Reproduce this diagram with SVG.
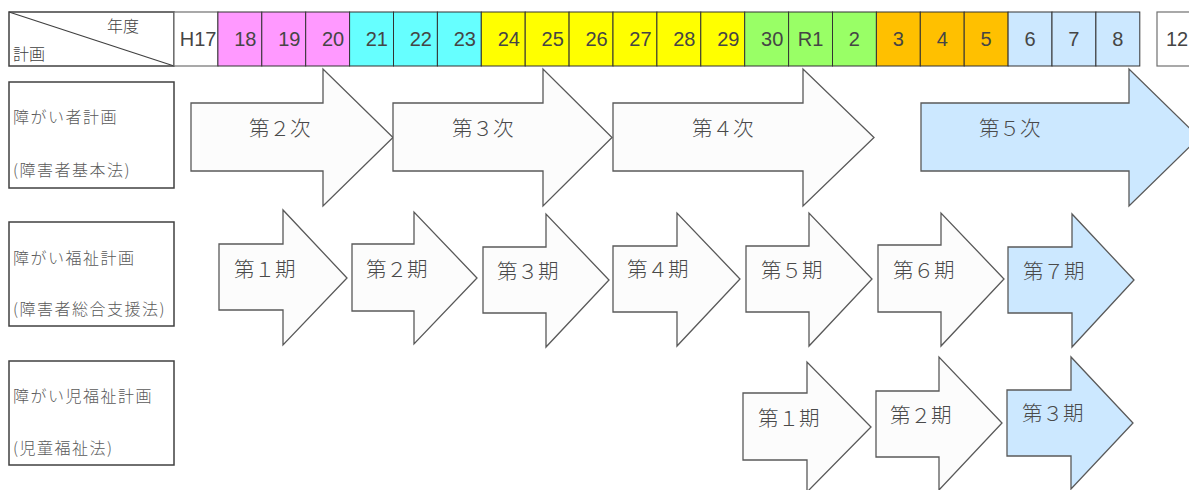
<svg xmlns="http://www.w3.org/2000/svg" width="1189" height="490" viewBox="0 0 1189 490">
<style>
  .cell { stroke: #333333; stroke-width: 1; }
  .wcell { fill: #ffffff; stroke: #707070; stroke-width: 1.2; }
  .pink { fill: #ff99ff; }
  .cyan { fill: #66ffff; }
  .yel { fill: #ffff00; }
  .grn { fill: #99ff66; }
  .org { fill: #ffc000; }
  .blu { fill: #cce8ff; }
  .num { font-family: "Liberation Sans", Arial, sans-serif; font-size: 20px; fill: #454545; }
  .lbl { font-family: "Noto Sans CJK JP", "Noto Sans", sans-serif; font-size: 16px; font-weight: 300; fill: #595959; letter-spacing: 1.5px; }
  .hdr { font-family: "Noto Sans CJK JP", "Noto Sans", sans-serif; font-size: 16px; font-weight: 300; fill: #404040; }
  .box { fill: #ffffff; stroke: #404040; stroke-width: 1.5; }
  .arr { fill: #fcfcfc; stroke: #595959; stroke-width: 1.3; stroke-linejoin: miter; }
  .arrb { fill: #cce8ff; stroke: #595959; stroke-width: 1.3; }
  .at { font-family: "Noto Sans CJK JP", "Noto Sans", sans-serif; font-size: 20.5px; font-weight: 300; fill: #4a4a4a; }
</style>

<g id="header">
  <g id="header-corner">
    <rect class="box" x="9" y="12" width="165" height="54"/>
    <line x1="9" y1="12" x2="174" y2="66" stroke="#404040" stroke-width="1.2"/>
    <text class="hdr" x="107" y="32">年度</text>
    <text class="hdr" x="13" y="60">計画</text>
  </g>
  <g id="year-cells">
    <rect class="wcell" x="174" y="12" width="43.9" height="54"/>
    <rect class="cell pink" x="217.9" y="12" width="43.9" height="54"/>
    <rect class="cell pink" x="261.8" y="12" width="43.9" height="54"/>
    <rect class="cell pink" x="305.7" y="12" width="43.9" height="54"/>
    <rect class="cell cyan" x="349.6" y="12" width="43.9" height="54"/>
    <rect class="cell cyan" x="393.5" y="12" width="43.9" height="54"/>
    <rect class="cell cyan" x="437.4" y="12" width="43.9" height="54"/>
    <rect class="cell yel" x="481.3" y="12" width="43.9" height="54"/>
    <rect class="cell yel" x="525.2" y="12" width="43.9" height="54"/>
    <rect class="cell yel" x="569.1" y="12" width="43.9" height="54"/>
    <rect class="cell yel" x="613" y="12" width="43.9" height="54"/>
    <rect class="cell yel" x="656.9" y="12" width="43.9" height="54"/>
    <rect class="cell yel" x="700.8" y="12" width="43.9" height="54"/>
    <rect class="cell grn" x="744.7" y="12" width="43.9" height="54"/>
    <rect class="cell grn" x="788.6" y="12" width="43.9" height="54"/>
    <rect class="cell grn" x="832.5" y="12" width="43.9" height="54"/>
    <rect class="cell org" x="876.4" y="12" width="43.9" height="54"/>
    <rect class="cell org" x="920.3" y="12" width="43.9" height="54"/>
    <rect class="cell org" x="964.2" y="12" width="43.9" height="54"/>
    <rect class="cell blu" x="1008.1" y="12" width="43.9" height="54"/>
    <rect class="cell blu" x="1052" y="12" width="43.9" height="54"/>
    <rect class="cell blu" x="1095.9" y="12" width="43.9" height="54"/>
    <rect class="wcell" x="1157" y="12" width="45" height="54"/>
  </g>
  <g id="year-labels">
    <text class="num" x="216.5" y="46" text-anchor="end">H17</text>
    <text class="num" x="256.5" y="46" text-anchor="end">18</text>
    <text class="num" x="300.5" y="46" text-anchor="end">19</text>
    <text class="num" x="344.2" y="46" text-anchor="end">20</text>
    <text class="num" x="388" y="46" text-anchor="end">21</text>
    <text class="num" x="432" y="46" text-anchor="end">22</text>
    <text class="num" x="476" y="46" text-anchor="end">23</text>
    <text class="num" x="520" y="46" text-anchor="end">24</text>
    <text class="num" x="563.8" y="46" text-anchor="end">25</text>
    <text class="num" x="607.7" y="46" text-anchor="end">26</text>
    <text class="num" x="651.6" y="46" text-anchor="end">27</text>
    <text class="num" x="695.5" y="46" text-anchor="end">28</text>
    <text class="num" x="739.4" y="46" text-anchor="end">29</text>
    <text class="num" x="783.3" y="46" text-anchor="end">30</text>
    <text class="num" x="810.5" y="46" text-anchor="middle">R1</text>
    <text class="num" x="854.4" y="46" text-anchor="middle">2</text>
    <text class="num" x="898.3" y="46" text-anchor="middle">3</text>
    <text class="num" x="942.2" y="46" text-anchor="middle">4</text>
    <text class="num" x="986.1" y="46" text-anchor="middle">5</text>
    <text class="num" x="1030" y="46" text-anchor="middle">6</text>
    <text class="num" x="1073.9" y="46" text-anchor="middle">7</text>
    <text class="num" x="1117.8" y="46" text-anchor="middle">8</text>
    <text class="num" x="1166" y="46">12</text>
  </g>
</g>

<g id="plan-labels">
  <g id="label-shougaisha">
    <rect class="box" x="9" y="82" width="165" height="106"/>
    <text class="lbl" x="13" y="123">障がい者計画</text>
    <text class="lbl" x="13" y="176">(障害者基本法)</text>
  </g>
  <g id="label-fukushi">
    <rect class="box" x="9" y="222" width="165" height="104"/>
    <text class="lbl" x="13" y="264">障がい福祉計画</text>
    <text class="lbl" x="13" y="315">(障害者総合支援法)</text>
  </g>
  <g id="label-jifukushi">
    <rect class="box" x="9" y="361" width="165" height="104"/>
    <text class="lbl" x="13" y="402">障がい児福祉計画</text>
    <text class="lbl" x="13" y="454">(児童福祉法)</text>
  </g>
</g>

<g id="row1-arrows">
  <g id="plan2">
    <polygon class="arr" points="191,103 323,103 323,69 393,137.5 323,206 323,171 191,171"/>
    <text class="at" x="249" y="136">第２次</text>
  </g>
  <g id="plan3">
    <polygon class="arr" points="393,103 543,103 543,69 612,137.5 543,206 543,171 393,171"/>
    <text class="at" x="452" y="136">第３次</text>
  </g>
  <g id="plan4">
    <polygon class="arr" points="613,103 803,103 803,69 874,137.5 803,206 803,171 613,171"/>
    <text class="at" x="692" y="136">第４次</text>
  </g>
  <g id="plan5">
    <polygon class="arrb" points="921,103 1129,103 1129,69 1199,137.5 1129,206 1129,171 921,171"/>
    <text class="at" x="979" y="136">第５次</text>
  </g>
</g>

<g id="row2-arrows">
  <g id="period1">
    <polygon class="arr" points="219,244 283,244 283,210 347,278 283,345 283,310 219,310"/>
    <text class="at" x="234" y="277">第１期</text>
  </g>
  <g id="period2">
    <polygon class="arr" points="352,244 414,244 414,212 477,278 414,344 414,311 352,311"/>
    <text class="at" x="366" y="277">第２期</text>
  </g>
  <g id="period3">
    <polygon class="arr" points="483,247 546,247 546,214 609,280 546,347 546,313 483,313"/>
    <text class="at" x="497" y="279">第３期</text>
  </g>
  <g id="period4">
    <polygon class="arr" points="613,246 677,246 677,213 740,279 677,346 677,312 613,312"/>
    <text class="at" x="627" y="277">第４期</text>
  </g>
  <g id="period5">
    <polygon class="arr" points="746,246 809,246 809,213 872,279 809,346 809,312 746,312"/>
    <text class="at" x="761" y="278">第５期</text>
  </g>
  <g id="period6">
    <polygon class="arr" points="878,245 941,245 941,213 1004,279 941,346 941,312 878,312"/>
    <text class="at" x="893" y="278">第６期</text>
  </g>
  <g id="period7">
    <polygon class="arrb" points="1008,247 1072,247 1072,214 1134,280 1072,347 1072,313 1008,313"/>
    <text class="at" x="1023" y="279">第７期</text>
  </g>
</g>

<g id="row3-arrows">
  <g id="child1">
    <polygon class="arr" points="743,393 807,393 807,362 871,427 807,492 807,460 743,460"/>
    <text class="at" x="758" y="426">第１期</text>
  </g>
  <g id="child2">
    <polygon class="arr" points="876,391 939,391 939,357 1002,423 939,490 939,457 876,457"/>
    <text class="at" x="890" y="423">第２期</text>
  </g>
  <g id="child3">
    <polygon class="arrb" points="1007,390 1071,390 1071,357 1133,423 1071,489 1071,456 1007,456"/>
    <text class="at" x="1022" y="421">第３期</text>
  </g>
</g>

<g id="connectors"/>
</svg>
